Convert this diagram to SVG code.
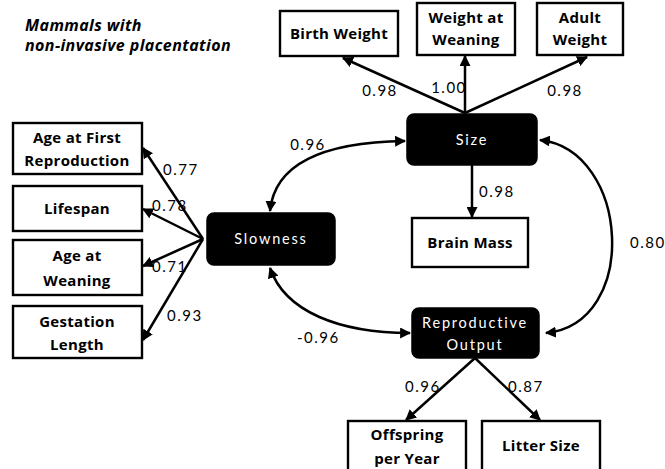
<svg xmlns="http://www.w3.org/2000/svg" width="665" height="469" viewBox="0 0 665 469">
  <style>
    .box { fill: #ffffff; stroke: #000000; stroke-width: 2.4; }
    .latent { fill: #000000; stroke: #000000; stroke-width: 1.5; }
    .lbl { font-family: "Open Sans", Lato, "Liberation Sans", sans-serif; font-weight: bold; font-size: 15px; fill: #000000; text-anchor: middle; letter-spacing: 0.3px; }
    .lt { font-family: Lato, "Open Sans", "Liberation Sans", sans-serif; font-size: 14.5px; fill: #ffffff; text-anchor: middle; letter-spacing: 1.8px; }
    .num { font-family: Lato, "Liberation Sans", sans-serif; font-size: 15px; fill: #000000; letter-spacing: 1.5px; }
    .title { font-family: "Open Sans", Lato, "Liberation Sans", sans-serif; font-weight: bold; font-style: italic; font-size: 16px; fill: #000000; letter-spacing: 0.4px; }
    .edge { fill: none; stroke: #000000; stroke-width: 2.5; }
  </style>
  <defs>
    <marker id="head" viewBox="0 0 10 10" refX="9" refY="5" markerWidth="4.4" markerHeight="4.4" orient="auto-start-reverse" markerUnits="strokeWidth">
      <path d="M0,0 L10,5 L0,10 z" fill="#000000"/>
    </marker>
  </defs>

  <rect width="665" height="469" fill="#ffffff"/>

  <!-- heading -->
  <g id="heading">
    <text class="title" x="25" y="31">Mammals with</text>
    <text class="title" x="25" y="51">non-invasive placentation</text>
  </g>

  <!-- connectors -->
  <g id="connectors">
    <!-- Size indicators -->
    <line class="edge" x1="465" y1="113" x2="343" y2="58" marker-end="url(#head)"/>
    <line class="edge" x1="465" y1="113" x2="465" y2="56" marker-end="url(#head)"/>
    <line class="edge" x1="465" y1="113" x2="587" y2="57" marker-end="url(#head)"/>
    <line class="edge" x1="472" y1="165" x2="472" y2="217" marker-end="url(#head)"/>
    <!-- Slowness indicators -->
    <line class="edge" x1="203" y1="239" x2="143" y2="148" marker-end="url(#head)"/>
    <line class="edge" x1="203" y1="239" x2="143" y2="209" marker-end="url(#head)"/>
    <line class="edge" x1="203" y1="239" x2="143" y2="266" marker-end="url(#head)"/>
    <line class="edge" x1="203" y1="239" x2="143" y2="340" marker-end="url(#head)"/>
    <!-- Reproductive Output indicators -->
    <line class="edge" x1="475" y1="358" x2="406" y2="420" marker-end="url(#head)"/>
    <line class="edge" x1="475" y1="358" x2="540" y2="420" marker-end="url(#head)"/>
    <!-- correlations between latent factors -->
    <path class="edge" d="M 405 141 C 330 142 275 160 270 211" marker-start="url(#head)" marker-end="url(#head)"/>
    <path class="edge" d="M 270 268 C 285 312 340 333 410 333" marker-start="url(#head)" marker-end="url(#head)"/>
    <path class="edge" d="M 540 140 C 630 150 640 324 546 333" marker-start="url(#head)" marker-end="url(#head)"/>
  </g>

  <!-- path coefficients -->
  <g id="coefficients">
    <text class="num" x="380" y="96" text-anchor="middle">0.98</text>
    <text class="num" x="449" y="93" text-anchor="middle">1.00</text>
    <text class="num" x="565" y="96" text-anchor="middle">0.98</text>
    <text class="num" x="308" y="150" text-anchor="middle">0.96</text>
    <text class="num" x="479" y="197">0.98</text>
    <text class="num" x="163" y="175">0.77</text>
    <text class="num" x="152" y="211">0.78</text>
    <text class="num" x="152" y="272">0.71</text>
    <text class="num" x="167" y="321">0.93</text>
    <text class="num" x="630" y="248">0.80</text>
    <text class="num" x="297" y="343">-0.96</text>
    <text class="num" x="405" y="392">0.96</text>
    <text class="num" x="508" y="392">0.87</text>
  </g>

  <!-- observed variables -->
  <g id="birth-weight">
    <rect class="box" x="280" y="11" width="118" height="45"/>
    <text class="lbl" x="339" y="39">Birth Weight</text>
  </g>
  <g id="weight-at-weaning">
    <rect class="box" x="417" y="3" width="98" height="52"/>
    <text class="lbl" x="466" y="23">Weight at</text>
    <text class="lbl" x="466" y="45">Weaning</text>
  </g>
  <g id="adult-weight">
    <rect class="box" x="537" y="3" width="86" height="52"/>
    <text class="lbl" x="580" y="23">Adult</text>
    <text class="lbl" x="580" y="45">Weight</text>
  </g>
  <g id="brain-mass">
    <rect class="box" x="412" y="218" width="116" height="49"/>
    <text class="lbl" x="470" y="248">Brain Mass</text>
  </g>
  <g id="age-first-reproduction">
    <rect class="box" x="13" y="123" width="129" height="51"/>
    <text class="lbl" x="77" y="143">Age at First</text>
    <text class="lbl" x="77" y="166">Reproduction</text>
  </g>
  <g id="lifespan">
    <rect class="box" x="13" y="186" width="129" height="45"/>
    <text class="lbl" x="77" y="214">Lifespan</text>
  </g>
  <g id="age-at-weaning">
    <rect class="box" x="13" y="240" width="129" height="55"/>
    <text class="lbl" x="77" y="261">Age at</text>
    <text class="lbl" x="77" y="286">Weaning</text>
  </g>
  <g id="gestation-length">
    <rect class="box" x="13" y="306" width="129" height="52"/>
    <text class="lbl" x="77" y="327">Gestation</text>
    <text class="lbl" x="77" y="350">Length</text>
  </g>
  <g id="offspring-per-year">
    <rect class="box" x="348" y="421" width="118" height="52"/>
    <text class="lbl" x="407" y="440">Offspring</text>
    <text class="lbl" x="407" y="464">per Year</text>
  </g>
  <g id="litter-size">
    <rect class="box" x="482" y="421" width="118" height="52"/>
    <text class="lbl" x="541" y="451">Litter Size</text>
  </g>

  <!-- latent factors -->
  <g id="size">
    <rect class="latent" x="407" y="114" width="130" height="51" rx="7"/>
    <text class="lt" x="472" y="145">Size</text>
  </g>
  <g id="slowness">
    <rect class="latent" x="207" y="213" width="128" height="52" rx="7"/>
    <text class="lt" x="271" y="244">Slowness</text>
  </g>
  <g id="reproductive-output">
    <rect class="latent" x="412" y="308" width="127" height="50" rx="7"/>
    <text class="lt" x="475" y="328">Reproductive</text>
    <text class="lt" x="475" y="350">Output</text>
  </g>
</svg>
